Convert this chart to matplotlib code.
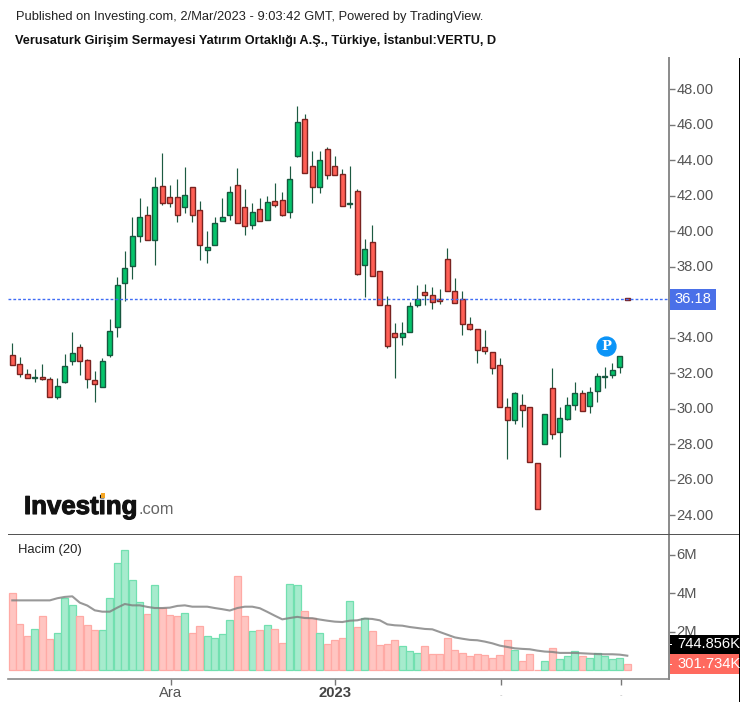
import matplotlib
matplotlib.use("Agg")
import numpy as np
import matplotlib.pyplot as plt
import matplotlib.patheffects as pe
from matplotlib.patches import Rectangle
from matplotlib.transforms import ScaledTranslation

plt.rcParams["font.family"] = ["Liberation Sans", "DejaVu Sans"]

W, H = 747, 707

opens = [33.03, 32.53, 31.96, 31.70, 31.75, 31.68, 30.63, 31.51, 32.66, 33.45,
         32.75, 31.62, 31.19, 33.01, 34.57, 37.05, 38.03, 39.72, 40.92, 39.49,
         42.53, 41.90, 41.90, 41.33, 42.46, 41.20, 38.93, 39.21, 40.56, 40.90,
         42.61, 41.33, 40.36, 41.26, 40.62, 41.67, 41.76, 41.05, 44.22, 46.33,
         43.66, 42.46, 44.64, 43.64, 43.23, 41.52, 42.25, 38.08, 39.36, 37.74,
         35.85, 34.23, 34.01, 34.29, 35.85, 36.56, 36.41, 36.15, 38.44, 36.62,
         36.15, 34.78, 34.50, 33.45, 33.16, 32.47, 30.07, 29.35, 30.20, 30.07,
         26.91, 28.02, 31.14, 28.66, 29.41, 30.20, 30.86, 30.14, 30.97, 31.76,
         31.91, 32.32, 36.22]
closes = [32.47, 31.96, 31.70, 31.75, 31.68, 30.63, 31.27, 32.39, 33.11, 32.66,
          31.68, 31.40, 32.68, 34.37, 36.98, 37.90, 39.72, 40.77, 39.49, 42.46,
          41.60, 41.56, 40.90, 42.05, 40.90, 39.21, 39.08, 40.43, 40.77, 42.18,
          40.47, 40.28, 41.05, 40.54, 41.61, 41.47, 40.90, 42.94, 46.12, 43.28,
          42.46, 44.02, 43.15, 43.15, 41.41, 41.58, 37.60, 39.00, 37.46, 35.85,
          33.52, 34.01, 34.23, 35.77, 36.19, 36.39, 35.98, 36.08, 36.62, 35.96,
          34.78, 34.50, 33.30, 33.22, 32.30, 30.07, 29.35, 30.86, 29.91, 26.97,
          24.36, 29.67, 28.58, 29.45, 30.20, 30.86, 29.84, 30.91, 31.83, 31.83,
          32.19, 32.96, 36.14]
highs = [33.67, 32.92, 32.20, 32.20, 32.49, 31.79, 31.70, 33.05, 34.33, 33.63,
         32.77, 32.13, 32.83, 35.02, 37.39, 38.89, 40.80, 41.86, 41.43, 43.06,
         44.38, 42.57, 42.91, 43.60, 42.46, 41.71, 40.02, 40.80, 41.84, 42.55,
         43.53, 42.35, 41.56, 41.84, 41.99, 42.69, 42.20, 43.68, 47.06, 46.57,
         44.53, 44.53, 44.75, 44.24, 43.47, 43.68, 42.35, 39.53, 40.32, 37.74,
         36.36, 34.80, 34.87, 36.00, 36.97, 36.99, 36.84, 36.71, 39.02, 37.33,
         36.64, 35.15, 34.50, 34.40, 33.16, 32.83, 30.59, 30.91, 30.80, 30.07,
         26.91, 29.67, 32.26, 30.08, 30.67, 31.49, 31.02, 31.19, 31.98, 32.34,
         32.54, 32.96, 36.22]
lows = [32.47, 31.79, 31.70, 31.51, 31.59, 30.63, 30.54, 31.45, 32.43, 31.87,
        31.17, 30.38, 31.19, 32.92, 34.05, 36.08, 37.28, 39.40, 39.49, 38.07,
        41.45, 41.37, 40.53, 41.03, 40.53, 38.35, 38.22, 39.21, 40.56, 40.62,
        40.47, 39.76, 40.13, 40.54, 40.62, 41.33, 40.84, 40.75, 44.19, 43.28,
        41.60, 42.16, 42.93, 43.15, 41.41, 41.31, 37.50, 36.30, 37.46, 35.85,
        33.43, 31.74, 33.56, 34.29, 35.74, 35.83, 35.60, 35.89, 36.62, 35.96,
        34.12, 34.42, 32.58, 33.07, 31.94, 30.07, 27.14, 29.13, 28.98, 26.97,
        24.36, 28.02, 28.28, 27.29, 29.35, 29.90, 29.84, 29.77, 30.39, 31.16,
        31.74, 32.00, 36.14]

# volume in millions
volumes = [4.03, 2.40, 1.76, 2.14, 2.80, 1.62, 1.95, 3.77, 3.37, 2.80,
           2.33, 2.09, 2.09, 3.77, 5.60, 6.24, 4.68, 3.53, 2.92, 4.42,
           3.22, 2.85, 2.80, 2.99, 1.95, 2.28, 1.76, 1.69, 1.86, 2.59,
           4.89, 2.80, 2.02, 2.07, 2.33, 2.14, 1.43, 4.49, 4.42, 3.06,
           2.73, 1.95, 1.36, 1.55, 1.69, 3.58, 2.23, 2.73, 2.02, 1.29,
           1.36, 1.55, 1.23, 0.97, 0.90, 1.23, 0.83, 0.83, 1.69, 1.03,
           0.90, 0.71, 0.83, 0.77, 0.64, 0.77, 1.55, 1.04, 0.45, 0.83,
           0.02, 0.45, 1.17, 0.57, 0.71, 0.97, 0.71, 0.64, 0.90, 0.71,
           0.57, 0.64, 0.30]
volume_ma = [3.63, 3.63, 3.63, 3.63, 3.63, 3.63, 3.74, 3.81, 3.84, 3.51,
             3.36, 3.11, 3.04, 3.04, 3.25, 3.44, 3.37, 3.37, 3.29, 3.23,
             3.23, 3.25, 3.34, 3.37, 3.30, 3.30, 3.30, 3.23, 3.17, 3.10,
             3.23, 3.30, 3.30, 3.22, 3.03, 2.83, 2.64, 2.71, 2.77, 2.71,
             2.70, 2.63, 2.57, 2.52, 2.50, 2.57, 2.59, 2.68, 2.66, 2.59,
             2.38, 2.33, 2.31, 2.24, 2.19, 2.14, 2.12, 1.98, 1.84, 1.70,
             1.63, 1.57, 1.55, 1.48, 1.39, 1.27, 1.20, 1.13, 1.10, 1.08,
             1.01, 0.96, 0.94, 0.89, 0.89, 0.89, 0.87, 0.85, 0.83, 0.82,
             0.82, 0.80, 0.745]

# 36 sits under the last price box, so it has no label of its own
price_ticks = [24, 26, 28, 30, 32, 34, 38, 40, 42, 44, 46, 48]
volume_ticks = [2, 4, 6]
date_ticks = [21.16, 43.03, 65.2, 81.2]
date_labels = ["Ara", "2023", "", ""]
last_price = 36.18
pin_bar = 79.2
pin_price = 33.5


def px_axes(x0, y0, x1, y1):
    # pixel box, y measured from the top of the image
    return fig.add_axes([x0 / W, 1 - y1 / H, (x1 - x0) / W, (y1 - y0) / H])


def fig_box(x0, y0, x1, y1, color, z=5):
    fig.add_artist(Rectangle((x0 / W, 1 - y1 / H), (x1 - x0) / W, (y1 - y0) / H,
                             transform=fig.transFigure, facecolor=color,
                             edgecolor="none", zorder=z))


def fig_text(x, y, s, **kw):
    return fig.text(x / W, 1 - y / H, s, zorder=6, **kw)


fig = plt.figure(figsize=(W / 100, H / 100), dpi=100)

ax = px_axes(8, 58, 669, 534)
ax_vol = px_axes(8, 534, 669, 679)

n = len(opens)
x = np.arange(n)
o = np.array(opens)
c = np.array(closes)
up = c >= o

# price pane
ax.vlines(x, lows, highs, color="#1d5a42", lw=0.85, zorder=2)
ax.bar(x, np.abs(c - o), bottom=np.minimum(o, c), width=0.66,
       color=np.where(up, "#05c46b", "#ff5f55"),
       edgecolor=np.where(up, "#17573f", "#7a2320"), linewidth=1.0, zorder=3)
ax.axhline(last_price, color="#3f6cf5", lw=1.0, ls=(0, (2, 1.5)), zorder=4)
ax.scatter([pin_bar], [pin_price], s=185, color="#0b94f7", zorder=5)
ax.text(pin_bar, pin_price - 0.02, "P", color="white", family="DejaVu Serif",
        fontweight="bold", fontsize=9.5, ha="center", va="center", zorder=6)
ax.set_xlim(-0.573, 87.56)
ax.set_ylim(22.93, 49.75)
ax.set_yticks(price_ticks)
ax.set_yticklabels(["%.2f" % t for t in price_ticks])
ax.set_xticks([])

# volume pane
ax_vol.bar(x, volumes, width=0.94,
           color=np.where(up, "#a6ebcd", "#ffc5c1"),
           edgecolor=np.where(up, "#72e0b0", "#ffaaa5"), linewidth=0.9, zorder=2)
ax_vol.plot(x, volume_ma, color="#7f7f7f", lw=1.5, alpha=0.8, zorder=3)
ax_vol.set_xlim(ax.get_xlim())
ax_vol.set_ylim(-0.47, 7.09)
ax_vol.set_yticks(volume_ticks)
ax_vol.set_yticklabels(["%dM" % t for t in volume_ticks])
ax_vol.set_xticks(date_ticks)
ax_vol.set_xticklabels(date_labels)
ax_vol.tick_params(axis="x", length=4, width=1, color="#777777", labelsize=10.6,
                   labelcolor="#555555", pad=0.8)
ax_vol.get_xticklabels()[1].set_fontweight("bold")
ax_vol.get_xticklabels()[1].set_color("#444444")

for a in (ax, ax_vol):
    a.yaxis.tick_right()
    a.tick_params(axis="y", length=4, width=1, color="#777777", labelsize=10.6,
                  labelcolor="#555555", pad=1.4)
    # labels sit a pixel above their ticks
    shift = ScaledTranslation(0, 1 / 100, fig.dpi_scale_trans)
    for lab in a.get_yticklabels():
        lab.set_transform(lab.get_transform() + shift)
    for side in ("left", "top", "bottom"):
        a.spines[side].set_visible(False)
    a.spines["right"].set_color("#8a8a8a")
    a.spines["right"].set_linewidth(1.4)
    a.patch.set_alpha(0)
ax_vol.spines["bottom"].set_visible(True)
ax_vol.spines["bottom"].set_color("#8a8a8a")
ax_vol.spines["bottom"].set_linewidth(1.2)

# the two unnamed date marks
for t in (501, 621):
    fig_text(t, 695.7, "-", fontsize=5.5, color="#bbbbbb", ha="center", va="center")

# frame lines outside the panes
fig_box(8, 533.5, 739.5, 534.7, "#555555")
fig_box(738.7, 58, 740, 702, "#000000")

# value boxes on the right scale
fig_box(669.5, 289, 715.5, 309.5, "#4a70e8")
fig_text(692.5, 299, "%.2f" % last_price, color="white", fontsize=10.6,
         ha="center", va="center")
fig_box(669.5, 635, 739, 654.3, "#000000")
fig_text(677, 644.5, "744.856K", color="white", fontsize=10.6, va="center")
fig_box(669.5, 654.3, 739, 674, "#ff6a5f")
fig_text(677, 664, "301.734K", color="white", fontsize=10.6, va="center")
fig_box(670, 643.7, 672, 644.7, "#ffffff")
fig_box(670, 663.7, 672, 664.7, "#ffffff")

# header
fig_text(16, 17, "Published on Investing.com, 2/Mar/2023 - 9:03:42 GMT, Powered by TradingView.",
         fontsize=9.27, color="#222222", va="center")
fig_text(15, 40, "Verusaturk Girişim Sermayesi Yatırım Ortaklığı A.Ş., Türkiye, İstanbul:VERTU, D",
         fontsize=9.22, fontweight="bold", color="#111111", va="center")
fig_text(18.5, 550, "Hacim (20)", fontsize=9.4, color="#222222", va="center")

# logo
logo = fig_text(24, 514, "Investing", fontsize=18.6, fontweight="bold", color="#111111",
                va="baseline")
logo.set_path_effects([pe.withStroke(linewidth=0.8, foreground="#111111")])
fig_text(138.5, 514, ".com", fontsize=11.8, color="#666666", va="baseline")
fig_box(100.5, 493, 104.5, 497.5, "#f5a623", z=7)

fig.savefig("out.png", dpi=100)
